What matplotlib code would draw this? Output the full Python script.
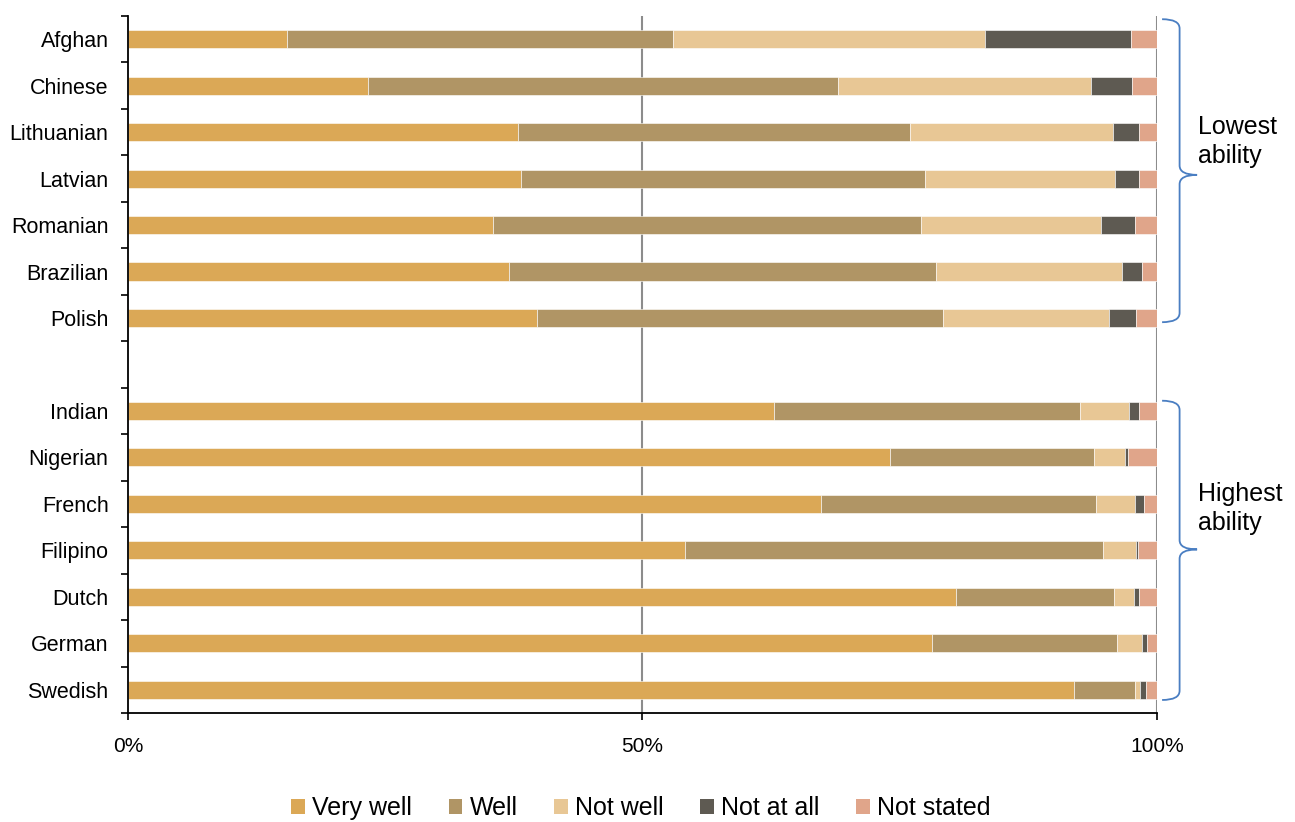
import matplotlib.pyplot as plt
from matplotlib.path import Path
from matplotlib.patches import PathPatch, Patch
import numpy as np

plt.rcParams["font.family"] = ["Liberation Sans", "DejaVu Sans"]

# rows top to bottom; "" is the spacer between the two groups
groups = ["Afghan", "Chinese", "Lithuanian", "Latvian", "Romanian", "Brazilian", "Polish",
          "",
          "Indian", "Nigerian", "French", "Filipino", "Dutch", "German", "Swedish"]

very_well = [15.5, 23.3, 37.9, 38.2, 35.5, 37.0, 39.8, 0, 62.8, 74.1, 67.4, 54.1, 80.5, 78.1, 91.9]
well = [37.5, 45.7, 38.1, 39.3, 41.6, 41.5, 39.4, 0, 29.7, 19.8, 26.7, 40.7, 15.3, 18.0, 6.0]
not_well = [30.3, 24.6, 19.7, 18.4, 17.5, 18.1, 16.1, 0, 4.8, 3.0, 3.8, 3.2, 2.0, 2.4, 0.5]
not_at_all = [14.2, 4.0, 2.6, 2.4, 3.3, 1.9, 2.7, 0, 1.0, 0.3, 0.8, 0.2, 0.5, 0.5, 0.5]
not_stated = [2.5, 2.4, 1.7, 1.7, 2.1, 1.5, 2.0, 0, 1.7, 2.8, 1.3, 1.8, 1.7, 1.0, 1.1]

series_names = ["Very well", "Well", "Not well", "Not at all", "Not stated"]
colors = ["#DBA856", "#B09565", "#E8C795", "#5E5A52", "#E0A58A"]


def brace(ax, y_top, y_bot, y_mid, x0=100.5, x1=102.2, x2=103.9, r=0.2):
    verts = [(x0, y_top), (x1, y_top), (x1, y_top + r),
             (x1, y_mid - r), (x1, y_mid), (x2, y_mid),
             (x1, y_mid), (x1, y_mid + r),
             (x1, y_bot - r), (x1, y_bot), (x0, y_bot)]
    codes = [Path.MOVETO, Path.CURVE3, Path.CURVE3,
             Path.LINETO, Path.CURVE3, Path.CURVE3,
             Path.CURVE3, Path.CURVE3,
             Path.LINETO, Path.CURVE3, Path.CURVE3]
    ax.add_patch(PathPatch(Path(verts, codes), fill=False, edgecolor="#4A7EC2",
                           lw=1.3, clip_on=False))


fig = plt.figure(figsize=(12.95, 8.22), dpi=100)
ax = fig.add_axes([0.0988, 0.1326, 0.7946, 0.848])

y = np.arange(len(groups))
data = [very_well, well, not_well, not_at_all, not_stated]
left = np.zeros(len(groups))
for vals, name, c in zip(data, series_names, colors):
    vals = np.array(vals)
    ax.barh(y, vals, left=left, height=0.39, color=c, edgecolor="white",
            linewidth=0.4, label=name, zorder=3)
    left += vals

ax.set_xlim(0, 100)
ax.set_ylim(len(groups) - 0.5, -0.5)

for xv in [50, 100]:
    ax.axvline(xv, color="#8C8C8C", lw=1.5, zorder=1)

ax.set_xticks([0, 50, 100])
ax.set_xticklabels(["0%", "50%", "100%"], fontsize=15)
ax.set_yticks(np.arange(len(groups) + 1) - 0.5)
ax.set_yticklabels([])
ax.set_yticks(y, minor=True)
ax.set_yticklabels(groups, minor=True, fontsize=15.5)
ax.tick_params(axis="y", which="minor", length=0, pad=14)
ax.tick_params(axis="y", which="major", direction="out", length=5, width=1.2)
ax.tick_params(axis="x", direction="out", length=5, width=1.2, pad=12)

for s in ["top", "right"]:
    ax.spines[s].set_visible(False)
for s in ["left", "bottom"]:
    ax.spines[s].set_linewidth(1.3)
    ax.spines[s].set_zorder(4)

brace(ax, -0.43, 6.09, 2.92)
brace(ax, 7.78, 14.22, 10.98)
ax.text(104.0, 2.2, "Lowest\nability", fontsize=18, va="center", ha="left",
        linespacing=1.3, clip_on=False)
ax.text(104.0, 10.1, "Highest\nability", fontsize=18, va="center", ha="left",
        linespacing=1.3, clip_on=False)

handles = [Patch(facecolor=c, label=n) for c, n in zip(colors, series_names)]
fig.legend(handles=handles, loc="center", bbox_to_anchor=(0.495, 0.017),
           ncol=5, frameon=False, fontsize=18, handlelength=0.55,
           handleheight=0.55, handletextpad=0.3, columnspacing=1.45)

fig.savefig("out.png", dpi=100)
